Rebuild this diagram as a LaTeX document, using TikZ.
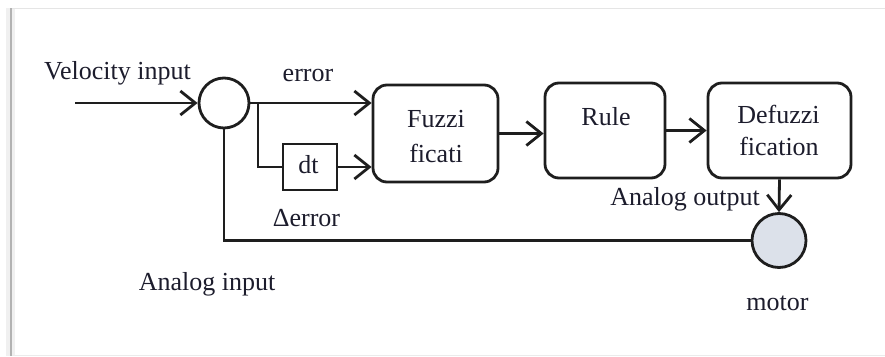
\documentclass[tikz,border=0pt]{standalone}
\usepackage{fontspec}
\setmainfont{Liberation Serif}
\usetikzlibrary{arrows.meta,calc}
\definecolor{lc}{HTML}{1E1E1E}
\definecolor{tc}{HTML}{1C1C2C}
\definecolor{mf}{HTML}{DCE1EA}
\begin{document}
\begin{tikzpicture}[x=1pt,y=-1pt,
  ln/.style={line width=2.8pt, draw=lc},
  arr/.style={ln,-{Straight Barb[length=15pt,width=24pt]}},
  blk/.style={ln, rounded corners=14pt, minimum width=#1, inner sep=0pt},
  txt/.style={font=\fontsize{26}{30}\selectfont, text=tc, inner sep=0pt, anchor=base},
]
\useasboundingbox (0,0) rectangle (885,356);
% frame
\fill[black!6] (6,8) rectangle (15,356);
\fill[black!30] (9.5,8) rectangle (12,356);
\draw[black!10, line width=1.5pt] (12,8.5) -- (885,8.5);
\draw[black!8, line width=1pt] (12,355.5) -- (885,355.5);
% blocks
\node[circle, ln, minimum size=50pt, inner sep=0pt] (sum) at (224,103) {};
\coordinate (in) at (75,103);
\node[blk=125pt, minimum height=97pt] (fuzz) at (435.5,133.5) {};
\node[blk=120pt, minimum height=95pt] (rule) at (605,130.5) {};
\node[blk=143pt, minimum height=95pt] (defuz) at (779.5,130.5) {};
\node[ln, minimum width=54pt, minimum height=46pt, inner sep=0pt] (dt) at (310,167) {};
\node[circle, ln, fill=mf, minimum size=54pt, inner sep=0pt] (motor) at (779,240.5) {};
% connectors
\draw[arr] (in) -- (sum.west);
\draw[arr] (sum.east) -- (sum.east -| fuzz.west);
\coordinate (br) at (258,103);
\draw[ln] (br) |- (dt.west);
\draw[arr] (dt.east) -- (dt.east -| fuzz.west);
\draw[arr] (fuzz.east) -- (fuzz.east -| rule.west);
\draw[arr] (rule.east) -- (defuz.west);
\draw[arr] (defuz.south) -- (motor.north);
\draw[ln] (motor.west) -| (sum.south);
% texts
\node[txt] (tvel) at (117.5,79) {Velocity input};
\node[txt] (terr) at (308,81) {error};
\node[txt] (tfz1) at (436,127) {Fuzzi};
\node[txt] (tfz2) at (436,162) {ficati};
\node[txt] (trule) at (606,125) {Rule};
\node[txt] (tdf1) at (778.5,123) {Defuzzi};
\node[txt] (tdf2) at (779,155) {fication};
\node[txt] (tdt) at (308.5,173) {dt};
\node[txt] (tao) at (685,205) {Analog output};
\node[txt] (tde) at (306.5,226) {Δerror};
\node[txt] (tai) at (207,290) {Analog input};
\node[txt] (tmot) at (777.5,310) {motor};
\end{tikzpicture}
\end{document}
